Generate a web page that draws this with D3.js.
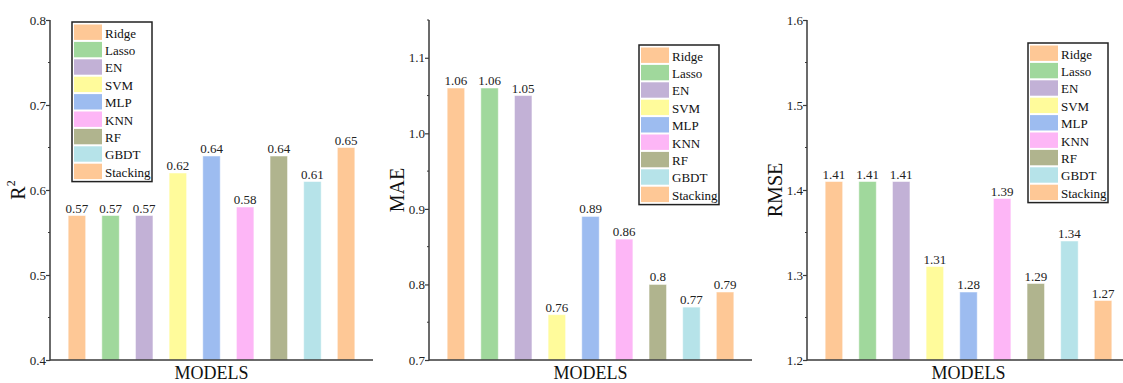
<!DOCTYPE html>
<html>
<head>
<meta charset="utf-8">
<script src="https://cdn.jsdelivr.net/npm/d3@7"></script>
<style>
  html, body { margin: 0; padding: 0; background: #fff; }
  svg { display: block; }
</style>
</head>
<body>
<svg id="chart" width="1123" height="383"></svg>
<script>
// Model names and their bar colours
const models = ["Ridge", "Lasso", "EN", "SVM", "MLP", "KNN", "RF", "GBDT", "Stacking"];
const colors = ["#FEC896", "#A0D89C", "#C2B1D6", "#FFFB9B", "#9DBCF0", "#FDB6F6", "#B0B48E", "#B6E3E9", "#FEC896"];

// Metric values per model
const r2Values   = [0.57, 0.57, 0.57, 0.62, 0.64, 0.58, 0.64, 0.61, 0.65];
const maeValues  = [1.06, 1.06, 1.05, 0.76, 0.89, 0.86, 0.80, 0.77, 0.79];
const rmseValues = [1.41, 1.41, 1.41, 1.31, 1.28, 1.39, 1.29, 1.34, 1.27];

// Axis tick labels
const r2Ticks   = ["0.4", "0.5", "0.6", "0.7", "0.8"];
const maeTicks  = ["0.7", "0.8", "0.9", "1.0", "1.1"];
const rmseTicks = ["1.2", "1.3", "1.4", "1.5", "1.6"];

const panels = [
  { values: r2Values,   ticks: r2Ticks,   domain: [0.4, 0.8],  label: "R2",   left: 50,  right: 373,  labelX: 18,  legendX: 72,   legendY: 22 },
  { values: maeValues,  ticks: maeTicks,  domain: [0.7, 1.15], label: "MAE",  left: 429, right: 752,  labelX: 397, legendX: 639,  legendY: 45 },
  { values: rmseValues, ticks: rmseTicks, domain: [1.2, 1.6],  label: "RMSE", left: 807, right: 1123, labelX: 775, legendX: 1028, legendY: 43 }
];

const FONT = "Liberation Serif, Times New Roman, serif";
const plotTop = 20, plotBottom = 360;
const svg = d3.select("#chart").attr("font-family", FONT);
const axisColor = "#3a3a3a";

panels.forEach(p => {
  const g = svg.append("g").attr("font-family", FONT);

  const x = d3.scaleBand()
    .domain(models)
    .range([p.left, p.left + 323])
    .paddingInner(0.48)
    .paddingOuter(0.54);

  const y = d3.scaleLinear().domain(p.domain).range([plotBottom, plotTop]);

  // bars
  g.selectAll("rect.bar")
    .data(models)
    .join("rect")
    .attr("class", "bar")
    .attr("x", d => x(d))
    .attr("width", x.bandwidth())
    .attr("y", (d, i) => y(p.values[i]))
    .attr("height", (d, i) => y(p.domain[0]) - y(p.values[i]))
    .attr("fill", (d, i) => colors[i])
    .attr("stroke", "#ffffff")
    .attr("stroke-opacity", 0.5)
    .attr("stroke-width", 1);

  // value labels
  g.selectAll("text.val")
    .data(models)
    .join("text")
    .attr("class", "val")
    .attr("x", d => x(d) + x.bandwidth() / 2)
    .attr("y", (d, i) => y(p.values[i]) - 3)
    .attr("text-anchor", "middle")
    .attr("font-family", FONT)
    .attr("font-size", 13)
    .attr("fill", "#222")
    .text((d, i) => String(+p.values[i].toFixed(2)));

  // y axis: major ticks every 0.1, minor every 0.05
  const majors = p.ticks.map(Number);
  const minors = d3.range(0, Math.round((p.domain[1] - p.domain[0]) / 0.05) + 1)
    .map(k => +(p.domain[0] + k * 0.05).toFixed(2))
    .filter(v => !majors.some(m => Math.abs(m - v) < 1e-9));

  const yAxis = d3.axisLeft(y)
    .tickValues(majors)
    .tickFormat((d, i) => p.ticks[i])
    .tickSize(4)
    .tickSizeOuter(0);

  const ya = g.append("g")
    .attr("transform", `translate(${p.left},0)`)
    .call(yAxis)
    .attr("font-family", FONT);
  ya.select(".domain").remove();
  ya.selectAll(".tick line").attr("stroke", axisColor).attr("stroke-width", 1.2);
  ya.selectAll(".tick text")
    .attr("font-family", FONT)
    .attr("font-size", 13)
    .attr("fill", "#222")
    .attr("x", -4);

  g.append("g").selectAll("line")
    .data(minors)
    .join("line")
    .attr("x1", p.left - 2).attr("x2", p.left)
    .attr("y1", d => y(d)).attr("y2", d => y(d))
    .attr("stroke", axisColor).attr("stroke-width", 1);

  // axis lines
  g.append("line")
    .attr("x1", p.left).attr("x2", p.left)
    .attr("y1", plotTop).attr("y2", plotBottom + 0.5)
    .attr("stroke", axisColor).attr("stroke-width", 1.5);
  g.append("line")
    .attr("x1", p.left).attr("x2", p.right)
    .attr("y1", plotBottom).attr("y2", plotBottom)
    .attr("stroke", axisColor).attr("stroke-width", 1.5);

  // axis titles
  const yl = g.append("text")
    .attr("transform", `translate(${p.labelX},190) rotate(-90)`)
    .attr("text-anchor", "middle")
    .attr("dominant-baseline", "central")
    .attr("font-family", FONT)
    .attr("font-size", 20)
    .attr("fill", "#111");
  if (p.label === "R2") {
    yl.append("tspan").text("R");
    yl.append("tspan").attr("font-size", 12).attr("dy", -7).text("2");
  } else {
    yl.text(p.label);
  }

  g.append("text")
    .attr("x", (p.left + p.left + 323) / 2)
    .attr("y", 379)
    .attr("text-anchor", "middle")
    .attr("font-family", FONT)
    .attr("font-size", 18)
    .attr("fill", "#111")
    .text("MODELS");

  // legend
  const rowH = 17.4, lw = 80;
  const lg = g.append("g").attr("transform", `translate(${p.legendX},${p.legendY})`);
  lg.append("rect")
    .attr("x", 0).attr("y", 0)
    .attr("width", lw).attr("height", rowH * models.length + 3)
    .attr("fill", "#fff")
    .attr("stroke", "#222")
    .attr("stroke-width", 1.5);
  const rows = lg.selectAll("g.row")
    .data(models)
    .join("g")
    .attr("class", "row")
    .attr("transform", (d, i) => `translate(0,${1.5 + i * rowH})`);
  rows.append("rect")
    .attr("x", 2).attr("y", 1)
    .attr("width", 28).attr("height", rowH - 2)
    .attr("fill", (d, i) => colors[i]);
  rows.append("text")
    .attr("x", 33)
    .attr("y", rowH / 2 + 1)
    .attr("dominant-baseline", "central")
    .attr("font-family", FONT)
    .attr("font-size", 13)
    .attr("fill", "#111")
    .text(d => d);
});
</script>
</body>
</html>
